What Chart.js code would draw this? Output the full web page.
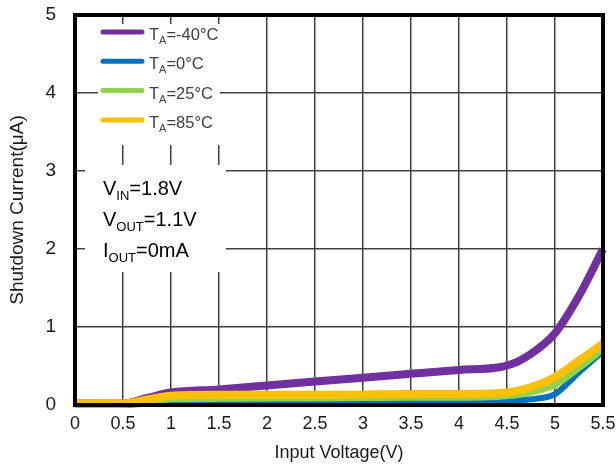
<!DOCTYPE html>
<html lang="en">
<head>
    <meta charset="UTF-8">
    <title>Shutdown Current vs Input Voltage</title>
    <script src="https://cdn.jsdelivr.net/npm/chart.js"></script>
    <style>
        html, body { margin: 0; padding: 0; background: #fff; }
        #wrap { width: 616px; height: 469px; }
    </style>
</head>
<body>
    <div id="wrap"><canvas id="myChart" width="616" height="469"></canvas></div>

    <script>
        // data
        const voltage = [0, 0.5, 0.75, 1, 1.5, 2, 2.5, 3, 3.5, 4, 4.4, 4.6, 4.8, 5, 5.25, 5.5];
        const iMinus40 = [0.02, 0.02, 0.09, 0.16, 0.2, 0.25, 0.3, 0.35, 0.4, 0.45, 0.48, 0.55, 0.7, 0.92, 1.4, 2.0];
        const i0 = [0, 0, 0.02, 0.03, 0.035, 0.04, 0.04, 0.045, 0.045, 0.05, 0.055, 0.06, 0.08, 0.14, 0.42, 0.69];
        const i25 = [0.01, 0.01, 0.04, 0.08, 0.085, 0.09, 0.09, 0.095, 0.1, 0.1, 0.11, 0.13, 0.18, 0.26, 0.48, 0.72];
        const i85 = [0.02, 0.02, 0.07, 0.12, 0.13, 0.13, 0.13, 0.135, 0.14, 0.14, 0.15, 0.18, 0.25, 0.36, 0.57, 0.79];
        const tempLabels = ['-40', '0', '25', '85'];
        const conditions = [['V', 'IN', '=1.8V'], ['V', 'OUT', '=1.1V'], ['I', 'OUT', '=0mA']];

        const FONT = '"Liberation Sans", Arial, sans-serif';
        const colors = ['#7030A0', '#0070C0', '#92D050', '#FFC000'];

        function pts(ys) {
            return voltage.map((v, i) => ({ x: v, y: ys[i] }));
        }

        const series = [iMinus40, i0, i25, i85];
        const widths = [8, 6, 7, 8];

        // draw text with a subscript part
        function subText(ctx, x, y, main, sub, rest, size, subSize, drop) {
            ctx.font = size + 'px ' + FONT;
            ctx.fillText(main, x, y);
            x += ctx.measureText(main).width;
            ctx.font = subSize + 'px ' + FONT;
            ctx.fillText(sub, x, y + drop);
            x += ctx.measureText(sub).width;
            ctx.font = size + 'px ' + FONT;
            ctx.fillText(rest, x, y);
        }

        const boxes = {
            id: 'boxes',
            beforeDatasetsDraw(chart) {
                const ctx = chart.ctx;
                ctx.save();
                ctx.fillStyle = '#fff';
                ctx.fillRect(98, 24, 122, 121);   // legend box
                ctx.fillRect(85, 165, 141, 107);  // conditions box
                ctx.restore();
            },
            afterDatasetsDraw(chart) {
                const ctx = chart.ctx;
                const a = chart.chartArea;
                ctx.save();
                // frame
                ctx.strokeStyle = '#000';
                ctx.lineWidth = 4;
                ctx.strokeRect(a.left, a.top, a.right - a.left, a.bottom - a.top);

                // legend
                ctx.textBaseline = 'alphabetic';
                ctx.fillStyle = '#404040';
                tempLabels.forEach((t, i) => {
                    const y = 32 + i * 29.3;
                    ctx.strokeStyle = colors[i];
                    ctx.lineWidth = 5;
                    ctx.lineCap = 'round';
                    ctx.beginPath();
                    ctx.moveTo(103, y);
                    ctx.lineTo(142, y);
                    ctx.stroke();
                    subText(ctx, 149, y + 8, 'T', 'A', '=' + t + '°C', 16.5, 11, 4);
                });

                // conditions
                ctx.fillStyle = '#000';
                conditions.forEach((c, i) => {
                    subText(ctx, 103, 195 + i * 31, c[0], c[1], c[2], 20, 13, 5);
                });
                ctx.restore();
            }
        };

        const fmt = (v) => String(Math.round(v * 10) / 10);

        const ctx = document.getElementById('myChart').getContext('2d');
        const chart = new Chart(ctx, {
            type: 'line',
            data: {
                datasets: series.map((s, i) => ({
                    label: 'TA=' + tempLabels[i] + '°C',
                    data: pts(s),
                    borderColor: colors[i],
                    borderWidth: widths[i],
                    pointRadius: 0,
                    cubicInterpolationMode: 'monotone',
                    fill: false,
                    clip: false,
                    order: [4, 3, 2, 1][i]
                }))
            },
            options: {
                responsive: false,
                animation: false,
                events: [],
                layout: { padding: { left: 0, right: 13, top: 15, bottom: 0 } },
                plugins: {
                    legend: { display: false },
                    tooltip: { enabled: false }
                },
                scales: {
                    x: {
                        type: 'linear',
                        min: 0,
                        max: 5.5,
                        afterFit: (s) => {
                            s.height = 64;
                            s.paddingLeft = 0;
                            s.paddingRight = 0;
                        },
                        border: { display: false },
                        grid: { color: '#404040', lineWidth: 1.5, drawTicks: false },
                        ticks: {
                            stepSize: 0.5,
                            autoSkip: false,
                            maxRotation: 0,
                            padding: 8,
                            color: '#1a1a1a',
                            font: { family: FONT, size: 18 },
                            callback: fmt
                        },
                        title: {
                            display: true,
                            text: 'Input Voltage(V)',
                            color: '#1a1a1a',
                            font: { family: FONT, size: 18 },
                            padding: { top: 0, bottom: 5 }
                        }
                    },
                    y: {
                        min: 0,
                        max: 5,
                        afterFit: (s) => {
                            s.width = 75;
                            s.paddingTop = 0;
                            s.paddingBottom = 0;
                        },
                        border: { display: false },
                        grid: { color: '#404040', lineWidth: 1.5, drawTicks: false },
                        ticks: {
                            stepSize: 1,
                            padding: 19,
                            color: '#1a1a1a',
                            font: { family: FONT, size: 19 },
                            callback: fmt
                        },
                        title: {
                            display: true,
                            text: 'Shutdown Current(μA)',
                            color: '#1a1a1a',
                            font: { family: FONT, size: 19 },
                            padding: { top: 6, bottom: 0 }
                        }
                    }
                }
            },
            plugins: [boxes]
        });
    </script>
</body>
</html>
